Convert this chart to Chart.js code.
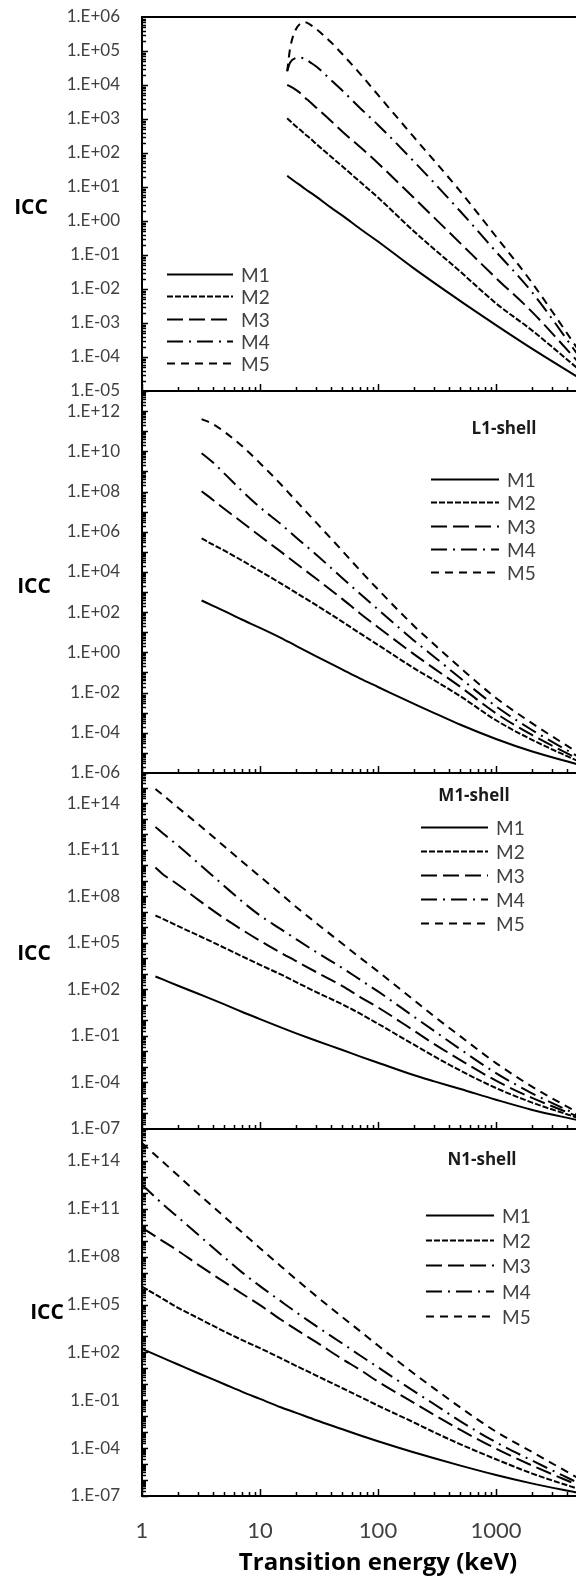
<!DOCTYPE html>
<html>
<head>
<meta charset="utf-8">
<script src="https://cdn.jsdelivr.net/npm/chart.js@4.4.1/dist/chart.umd.min.js"></script>
<style>
  html, body { margin: 0; padding: 0; background: #fff; overflow: hidden; }
  #wrap { position: relative; width: 620px; height: 1581px; }
  #wrap canvas { position: absolute; left: 0; }
</style>
</head>
<body>
<div id="wrap">
  <canvas id="kShell"></canvas>
  <canvas id="l1Shell"></canvas>
  <canvas id="m1Shell"></canvas>
  <canvas id="n1Shell"></canvas>
</div>
<script>
const seriesNames = ['M1', 'M2', 'M3', 'M4', 'M5'];
const xTickValues = [1, 10, 100, 1000, 10000];
const xTickLabels = ['1', '10', '100', '1000', ''];

// top panel (no shell label)
const kEnergy = [17, 18, 20, 22, 24, 27, 30, 40, 50, 70, 100, 200, 500, 1000, 2000, 5000];
const kM1 = [21.5, 18.4, 14.0, 11.2, 8.9, 6.7, 5.2, 2.47, 1.44, 0.60, 0.25, 0.041, 4.4e-3, 8.7e-4, 1.8e-4, 2.5e-5];
const kM2 = [1050, 873, 622, 474, 362, 258, 184, 78, 40, 14.4, 4.9, 0.51, 0.032, 3.8e-3, 6.2e-4, 4.4e-5];
const kM3 = [1.0e4, 9.1e3, 7.3e3, 5.7e3, 4.3e3, 3.0e3, 2.15e3, 873, 424, 153, 50, 4.9, 0.22, 0.021, 2.2e-3, 7.0e-5];
const kM4 = [2.6e4, 4.6e4, 6.2e4, 6.4e4, 5.8e4, 4.5e4, 3.5e4, 1.4e4, 6.8e3, 2.15e3, 670, 58, 1.9, 0.125, 8.4e-3, 1.1e-4];
const kM5 = [2.5e4, 1.2e5, 4.15e5, 6.4e5, 7.0e5, 5.8e5, 4.4e5, 1.8e5, 8.0e4, 2.2e4, 5.1e3, 302, 7.3, 0.35, 0.016, 1.6e-4];
const kTickExp = [-5, -4, -3, -2, -1, 0, 1, 2, 3, 4, 5, 6];

// L1-shell
const l1Energy = [3.2, 4, 5, 7, 10, 15, 20, 30, 50, 70, 100, 200, 300, 500, 1000, 2000, 5000];
const l1M1 = [381, 207, 112, 43, 16.6, 5.3, 2.18, 0.64, 0.139, 0.051, 0.019, 2.8e-3, 9.6e-4, 2.5e-4, 4.9e-5, 1.2e-5, 2.6e-6];
const l1M2 = [4.7e5, 2.26e5, 1.14e5, 3.76e4, 1.10e4, 2.7e3, 955, 223, 33, 9.0, 2.36, 0.168, 0.041, 6.5e-3, 4.2e-4, 4.6e-5, 3.8e-6];
const l1M3 = [1.03e8, 3.81e7, 1.36e7, 3.05e6, 6.12e5, 1.02e5, 2.77e4, 4.58e3, 445, 89, 17.9, 0.84, 0.156, 0.019, 9.3e-4, 8.0e-5, 4.9e-6];
const l1M4 = [8.1e9, 2.77e9, 7.8e8, 1.11e8, 1.64e7, 2.43e6, 5.5e5, 7.2e4, 4.9e3, 851, 136, 4.03, 0.594, 0.0514, 2.07e-3, 1.42e-4, 6.4e-6];
const l1M5 = [4.0e11, 2.25e11, 9.3e10, 1.87e10, 2.57e9, 2.3e8, 3.67e7, 2.83e6, 1.10e5, 1.24e4, 1.35e3, 21.7, 2.45, 0.168, 5.4e-3, 3.1e-4, 9.8e-6];
const l1TickExp = [-6, -4, -2, 0, 2, 4, 6, 8, 10, 12];

// M1-shell
const m1Energy = [1.3, 1.5, 2, 3, 5, 7, 10, 15, 20, 30, 50, 70, 100, 200, 300, 500, 1000, 2000, 5000];
const m1M1 = [673, 432, 177, 51.5, 10.6, 3.58, 1.21, 0.351, 0.151, 0.0486, 0.0122, 4.8e-3, 1.86e-3, 3.0e-4, 1.17e-4, 3.76e-5, 7.7e-6, 1.76e-6, 3.6e-7];
const m1M2 = [5.7e6, 3.48e6, 1.23e6, 2.94e5, 4.72e4, 1.37e4, 3.79e3, 906, 305, 66, 10.6, 2.79, 0.60, 0.0282, 4.76e-3, 5.7e-4, 4.36e-5, 5.2e-6, 5.1e-7];
const m1M3 = [7.0e9, 2.61e9, 5.9e8, 5.8e7, 3.65e6, 7.1e5, 1.33e5, 2.25e4, 6.9e3, 1.28e3, 161, 33, 6.8, 0.225, 0.0296, 2.77e-3, 1.29e-4, 1.04e-5, 6.2e-7];
const m1M4 = [2.9e12, 1.14e12, 1.92e11, 1.33e10, 4.4e8, 4.8e7, 5.7e6, 7.5e5, 1.79e5, 2.48e4, 2.32e3, 432, 73, 1.79, 0.204, 0.0135, 4.0e-4, 2.08e-5, 7.6e-7];
const m1M5 = [8.1e14, 3.34e14, 5.4e13, 4.3e12, 1.57e11, 1.79e10, 1.85e9, 1.41e8, 2.16e7, 1.83e6, 8.5e4, 1.13e4, 1.41e3, 21.2, 1.79, 0.0925, 1.77e-3, 5.6e-5, 1.07e-6];
const m1TickExp = [-7, -4, -1, 2, 5, 8, 11, 14];

// N1-shell
const n1Energy = [1, 1.5, 2, 3, 5, 7, 10, 15, 20, 30, 50, 70, 100, 200, 300, 500, 1000, 2000, 5000];
const n1M1 = [166, 45.3, 18.1, 4.94, 1.01, 0.35, 0.121, 0.0364, 0.0169, 5.6e-3, 1.52e-3, 6.4e-4, 2.69e-4, 5.5e-5, 2.31e-5, 8.0e-6, 2.07e-6, 6.2e-7, 1.54e-7];
const n1M2 = [1.35e6, 2.27e5, 6.5e4, 1.39e4, 2.03e3, 610, 183, 43, 15, 3.53, 0.566, 0.17, 0.0463, 4.18e-3, 9.8e-4, 1.74e-4, 2.0e-5, 2.64e-6, 2.75e-7];
const n1M3 = [6.5e9, 9.4e8, 2.44e8, 3.08e7, 2.52e6, 4.9e5, 9.1e4, 1.15e4, 2.84e3, 435, 37.3, 8.4, 1.48, 0.0714, 0.0121, 1.38e-3, 9.3e-5, 8.4e-6, 4.7e-7];
const n1M4 = [3.2e12, 1.97e11, 3.16e10, 2.34e9, 8.9e7, 1.07e7, 1.42e6, 1.62e5, 3.5e4, 4.4e3, 359, 66.5, 11.7, 0.385, 0.0562, 4.8e-3, 2.32e-4, 1.73e-5, 6.5e-7];
const n1M5 = [1.32e15, 8.9e13, 1.30e13, 8.7e11, 3.16e10, 3.45e9, 3.42e8, 2.54e7, 4.08e6, 3.34e5, 1.61e4, 2.23e3, 269, 4.94, 0.54, 0.0347, 1.08e-3, 6.0e-5, 1.28e-6];
const n1TickExp = [-7, -4, -1, 2, 5, 8, 11, 14];

// Excel-like dash patterns for line width 2
const dashes = [[], [6, 2], [16, 6], [16, 6, 2, 6], [8, 6]];
const labelColor = '#404040';

function sciLabel(v) {
    const e = Math.round(Math.log10(v));
    return '1.E' + (e < 0 ? '-' : '+') + String(Math.abs(e)).padStart(2, '0');
}

// axes, inward ticks, ICC label, shell label and legend
const decor = {
    id: 'decor',
    afterDraw(chart, args, o) {
        const { ctx, chartArea: a, scales: { x, y } } = chart;
        ctx.save();
        ctx.strokeStyle = '#000';

        // minor/major ticks on the x axis, pointing up
        ctx.lineWidth = 1.5;
        ctx.beginPath();
        for (let d = 1; d < 10000; d *= 10) {
            for (let m = 1; m < 10; m++) {
                const px = Math.round(x.getPixelForValue(d * m)) + 0.5;
                const len = m === 1 ? 7 : 4;
                ctx.moveTo(px, a.bottom);
                ctx.lineTo(px, a.bottom - len);
            }
        }
        // y ticks, pointing right
        const eMin = Math.round(Math.log10(y.min));
        const eMax = Math.round(Math.log10(y.max));
        for (let e = eMin; e < eMax; e++) {
            for (let m = 1; m < 10; m++) {
                const py = Math.round(y.getPixelForValue(m * Math.pow(10, e))) + 0.5;
                const len = m === 1 ? 6 : 4;
                ctx.moveTo(a.left, py);
                ctx.lineTo(a.left + len, py);
            }
        }
        ctx.stroke();

        // axis lines
        ctx.lineWidth = 2;
        ctx.beginPath();
        ctx.moveTo(a.left, a.top);
        ctx.lineTo(a.left, a.bottom);
        ctx.lineTo(a.right, a.bottom);
        if (o.topLine) {
            ctx.moveTo(a.left - 1, a.top);
            ctx.lineTo(a.right, a.top);
        }
        ctx.stroke();

        // ICC
        ctx.fillStyle = '#000';
        ctx.font = 'bold 21px "Open Sans"';
        ctx.textAlign = 'center';
        ctx.textBaseline = 'middle';
        ctx.fillText('ICC', o.iccX, (a.top + a.bottom) / 2 + o.iccDy);

        if (o.shell) {
            ctx.font = 'bold 17px "Open Sans"';
            ctx.fillStyle = '#1a1a1a';
            ctx.fillText(o.shell, o.shellX, o.shellY - o.top);
        }

        // legend
        chart.data.datasets.forEach((ds, i) => {
            const yy = Math.round(o.legY - o.top + i * o.legGap) + 0.5;
            ctx.strokeStyle = '#000';
            ctx.lineWidth = 2;
            ctx.setLineDash(ds.borderDash);
            ctx.beginPath();
            ctx.moveTo(o.legX, yy);
            ctx.lineTo(o.legX + o.legLen, yy);
            ctx.stroke();
            ctx.setLineDash([]);
            ctx.font = '19px Lato';
            ctx.fillStyle = labelColor;
            ctx.textAlign = 'left';
            ctx.fillText(ds.label, o.legX + o.legLen + 8, yy + 1);
        });
        ctx.restore();
    }
};

function makePanel(id, p) {
    const canvas = document.getElementById(id);
    canvas.width = 620;
    canvas.height = p.height;
    canvas.style.width = '620px';
    canvas.style.height = p.height + 'px';
    canvas.style.top = p.top + 'px';

    const datasets = p.series.map((vals, i) => ({
        label: seriesNames[i],
        data: p.energy.map((e, j) => ({ x: e, y: vals[j] })),
        borderColor: '#000',
        borderWidth: 2,
        borderDash: dashes[i],
        pointRadius: 0,
        fill: false,
        cubicInterpolationMode: 'monotone'
    }));

    return new Chart(canvas, {
        type: 'line',
        data: { datasets: datasets },
        options: {
            responsive: false,
            animation: false,
            devicePixelRatio: 1,
            layout: { padding: { top: p.chartTop - p.top, right: 6, left: 0, bottom: 0 } },
            plugins: {
                legend: { display: false },
                tooltip: { enabled: false },
                decor: Object.assign({ top: p.top }, p.decor)
            },
            scales: {
                x: {
                    type: 'logarithmic',
                    min: 1,
                    max: 10000,
                    afterBuildTicks: s => { s.ticks = xTickValues.map(v => ({ value: v })); },
                    afterFit: s => { s.height = p.xHeight; s.paddingLeft = 0; s.paddingRight = 0; },
                    grid: { display: false, drawTicks: false },
                    border: { display: false },
                    ticks: {
                        display: !!p.showX,
                        color: labelColor,
                        padding: 22,
                        maxRotation: 0,
                        autoSkip: false,
                        font: { family: 'Lato', size: 22 },
                        callback: v => xTickLabels[xTickValues.indexOf(v)] || ''
                    },
                    title: {
                        display: !!p.showX,
                        text: 'Transition energy (keV)',
                        color: '#000',
                        padding: { top: 0, bottom: 3 },
                        font: { family: 'Open Sans', size: 24, weight: 'bold' }
                    }
                },
                y: {
                    type: 'logarithmic',
                    min: Math.pow(10, p.yMin),
                    max: Math.pow(10, p.yMax),
                    afterBuildTicks: s => { s.ticks = p.tickExp.map(e => ({ value: Math.pow(10, e) })); },
                    afterFit: s => { s.width = 142; s.paddingTop = 0; s.paddingBottom = 0; },
                    grid: { display: false, drawTicks: false },
                    border: { display: false },
                    ticks: {
                        color: labelColor,
                        padding: 22,
                        autoSkip: false,
                        font: { family: 'Lato', size: 17 },
                        callback: v => sciLabel(v)
                    }
                }
            }
        },
        plugins: [decor]
    });
}

makePanel('kShell', {
    top: 0, height: 410, chartTop: 17, xHeight: 19,
    energy: kEnergy, series: [kM1, kM2, kM3, kM4, kM5],
    yMin: -5, yMax: 6, tickExp: kTickExp,
    decor: { topLine: true, iccX: 31, iccDy: 4, legX: 167, legY: 274, legGap: 22.3, legLen: 66 }
});

makePanel('l1Shell', {
    top: 380, height: 410, chartTop: 391, xHeight: 17,
    energy: l1Energy, series: [l1M1, l1M2, l1M3, l1M4, l1M5],
    yMin: -6, yMax: 13, tickExp: l1TickExp,
    decor: { iccX: 34, iccDy: 5, shell: 'L1-shell', shellX: 504, shellY: 429,
             legX: 431, legY: 479, legGap: 23.3, legLen: 68 }
});

makePanel('m1Shell', {
    top: 760, height: 390, chartTop: 772, xHeight: 21,
    energy: m1Energy, series: [m1M1, m1M2, m1M3, m1M4, m1M5],
    yMin: -7, yMax: 16, tickExp: m1TickExp,
    decor: { iccX: 34, iccDy: 4, shell: 'M1-shell', shellX: 474, shellY: 796,
             legX: 421, legY: 827, legGap: 23.9, legLen: 67 }
});

makePanel('n1Shell', {
    top: 1115, height: 466, chartTop: 1129, xHeight: 85, showX: true,
    energy: n1Energy, series: [n1M1, n1M2, n1M3, n1M4, n1M5],
    yMin: -7, yMax: 16, tickExp: n1TickExp,
    decor: { iccX: 47, iccDy: 1, shell: 'N1-shell', shellX: 482, shellY: 1160,
             legX: 426, legY: 1215, legGap: 25.2, legLen: 68 }
});
</script>
</body>
</html>
